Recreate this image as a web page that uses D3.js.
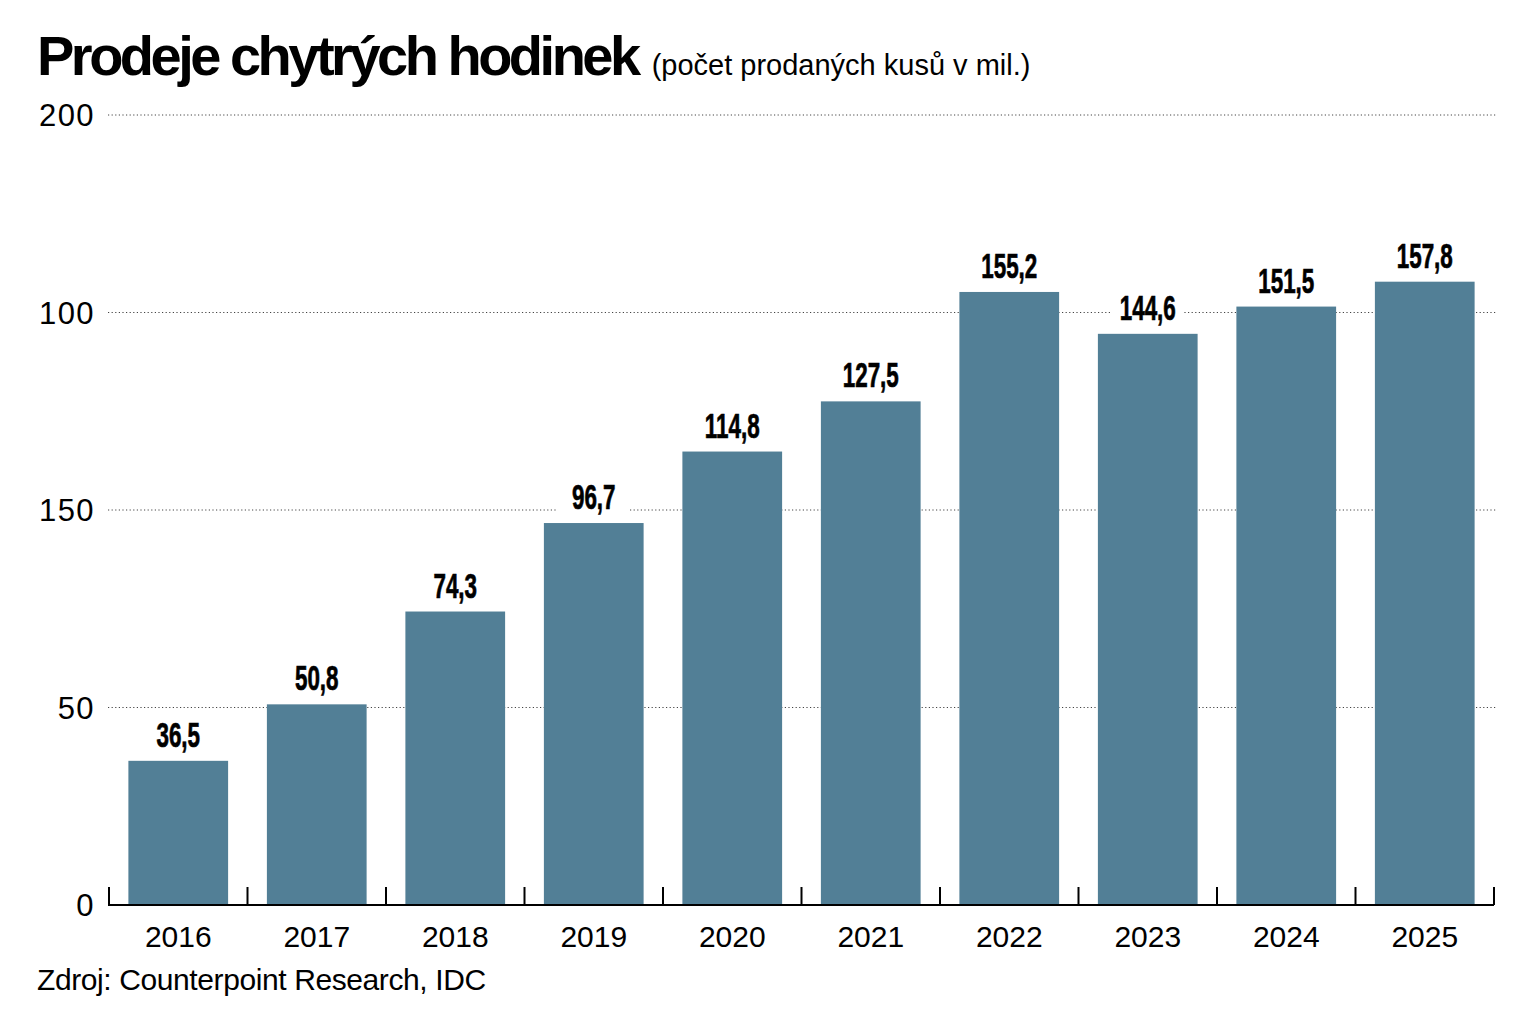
<!DOCTYPE html>
<html>
<head>
<meta charset="utf-8">
<script src="https://cdn.jsdelivr.net/npm/d3@7"></script>
<style>
  body { margin: 0; background: #fff; }
  svg { display: block; }
  text { font-family: "Liberation Sans", Arial, sans-serif; fill: #000; }
</style>
</head>
<body>
<script>
var years = ["2016", "2017", "2018", "2019", "2020", "2021", "2022", "2023", "2024", "2025"];
var sales = [36.5, 50.8, 74.3, 96.7, 114.8, 127.5, 155.2, 144.6, 151.5, 157.8];
var tickValues = [0, 50, 100, 150, 200];
var tickLabels = ["0", "50", "150", "100", "200"];

var svgWidth = 1536;
var svgHeight = 1021;
var chartLeft = 109, chartRight = 1494, chartTop = 115, chartBottom = 905;

var svg = d3.select("body")
  .append("svg")
  .attr("width", svgWidth)
  .attr("height", svgHeight);

var xScale = d3.scaleBand()
  .domain(years)
  .range([chartLeft, chartRight])
  .paddingInner(0.28)
  .paddingOuter(0.14);

var yScale = d3.scaleLinear()
  .domain([0, 200])
  .range([chartBottom, chartTop]);

// title
var title = svg.append("text")
  .attr("x", 37)
  .attr("y", 75);
title.append("tspan")
  .style("font-size", "56px")
  .style("font-weight", "bold")
  .style("letter-spacing", "-3.5px")
  .text("Prodeje chytrých hodinek");
title.append("tspan")
  .attr("dx", 14)
  .style("font-size", "29px")
  .style("letter-spacing", "0px")
  .text("(počet prodaných kusů v mil.)");

// dotted gridlines
svg.append("g")
  .selectAll("line")
  .data(tickValues.slice(1))
  .enter()
  .append("line")
  .attr("x1", 108)
  .attr("x2", 1496)
  .attr("y1", d => yScale(d))
  .attr("y2", d => yScale(d))
  .attr("stroke", "#444")
  .attr("stroke-width", 1)
  .attr("stroke-dasharray", "1.2 2.4");

// y tick labels
svg.append("g")
  .selectAll("text")
  .data(tickValues)
  .enter()
  .append("text")
  .attr("x", 95)
  .attr("y", d => yScale(d))
  .attr("dy", "0.36em")
  .style("text-anchor", "end")
  .style("font-size", "31px")
  .style("letter-spacing", "1.4px")
  .text((d, i) => tickLabels[i]);

// bars
svg.append("g")
  .selectAll("rect")
  .data(sales)
  .enter()
  .append("rect")
  .attr("x", (d, i) => xScale(years[i]))
  .attr("y", d => yScale(d))
  .attr("width", xScale.bandwidth())
  .attr("height", d => yScale(0) - yScale(d))
  .attr("fill", "#527f96");

// value labels with white background
var labels = svg.append("g")
  .selectAll("g")
  .data(sales)
  .enter()
  .append("g")
  .attr("transform", (d, i) => `translate(${xScale(years[i]) + xScale.bandwidth() / 2}, ${yScale(d) - 14})`);
labels.append("rect")
  .attr("x", -36)
  .attr("y", -30)
  .attr("width", 72)
  .attr("height", 34)
  .attr("fill", "#fff");
labels.append("text")
  .attr("transform", "scale(0.64,1)")
  .style("text-anchor", "middle")
  .style("font-size", "35px")
  .style("font-weight", "bold")
  .style("stroke", "#000")
  .style("stroke-width", "0.7px")
  .text(d => d3.format(".1f")(d).replace(".", ","));

// x axis baseline with ticks between bands
var step = xScale.step();
var bounds = d3.range(years.length + 1).map(i => chartLeft + i * step);
svg.append("line")
  .attr("x1", chartLeft - 1)
  .attr("x2", chartRight)
  .attr("y1", chartBottom)
  .attr("y2", chartBottom)
  .attr("stroke", "#000")
  .attr("stroke-width", 2);
svg.append("g")
  .selectAll("line")
  .data(bounds)
  .enter()
  .append("line")
  .attr("x1", d => d)
  .attr("x2", d => d)
  .attr("y1", chartBottom - 18)
  .attr("y2", chartBottom)
  .attr("stroke", "#000")
  .attr("stroke-width", 2);

// year labels
svg.append("g")
  .selectAll("text")
  .data(years)
  .enter()
  .append("text")
  .attr("x", d => xScale(d) + xScale.bandwidth() / 2)
  .attr("y", 947)
  .style("text-anchor", "middle")
  .style("font-size", "30px")
  .text(d => d);

// source
svg.append("text")
  .attr("x", 37)
  .attr("y", 990)
  .style("font-size", "30px")
  .style("letter-spacing", "-0.4px")
  .text("Zdroj: Counterpoint Research, IDC");
</script>
</body>
</html>
